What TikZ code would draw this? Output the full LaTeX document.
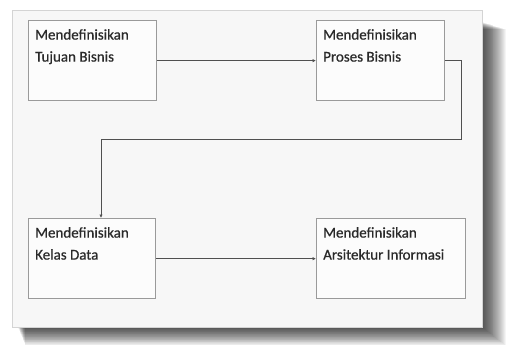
\documentclass[tikz,border=0pt]{standalone}
\usepackage{fontspec}
\setmainfont{Carlito}
\newfontfamily\stepfont{Carlito}[FakeBold=0.7]
\usetikzlibrary{arrows.meta,calc}
\definecolor{panelfill}{HTML}{F7F7F7}
\definecolor{panelline}{HTML}{D4D4D4}
\definecolor{boxline}{HTML}{9A9A9A}
\definecolor{wire}{HTML}{505050}
\definecolor{ink}{HTML}{2A2A2A}
\tikzset{
  stepbox/.style={draw=boxline, line width=1.3pt, fill=white!60!panelfill,
    rectangle, inner sep=0pt, anchor=north west},
  steptext/.style={font=\stepfont\fontsize{15}{22}\selectfont, text=ink, align=left,
    anchor=north west, inner sep=0pt},
  flow/.style={draw=wire, line width=1pt,
    -{Latex[length=3.5pt,width=3.5pt]}}
}
\begin{document}
\begin{tikzpicture}[x=1pt,y=-1pt]
\useasboundingbox (0,0) rectangle (513,351);
\fill[white] (0,0) rectangle (513,351);
% soft drop shadow of the panel, darkest near its edge
\foreach \k in {0,...,24}{
  \fill[black, opacity=0.04]
    ($(18,22)+(\k*0.3,\k*0.3)$) rectangle ($(483,328)+(\k*0.95,\k*0.72)$);
}
% panel
\fill[panelfill] (12,10) rectangle (482,327);
\draw[panelline, line width=0.8pt] (12,10) rectangle (482,327);
% steps
\node[stepbox, minimum width=128pt, minimum height=80pt] (tujuan) at (28,20) {};
\node[stepbox, minimum width=128pt, minimum height=80pt] (proses) at (316,20) {};
\node[stepbox, minimum width=127pt, minimum height=80pt] (kelas) at (28,218) {};
\node[stepbox, minimum width=149pt, minimum height=80pt] (arsitektur) at (316,218) {};
\node[steptext] (t1) at ($(tujuan.north west)+(7,9)$) {Mendefinisikan\\Tujuan Bisnis};
\node[steptext] (t2) at ($(proses.north west)+(7,9)$) {Mendefinisikan\\Proses Bisnis};
\node[steptext] (t3) at ($(kelas.north west)+(7,9)$) {Mendefinisikan\\Kelas Data};
\node[steptext] (t4) at ($(arsitektur.north west)+(7,9)$) {Mendefinisikan\\Arsitektur Informasi};
% connectors
\coordinate (turn) at (461,139);
\coordinate (drop) at (101,218);
\draw[flow] (tujuan.east) -- (proses.west);
\draw[flow] (proses.east) -| (turn) -| (drop);
\draw[flow] (kelas.east) -- (arsitektur.west);
\end{tikzpicture}
\end{document}
